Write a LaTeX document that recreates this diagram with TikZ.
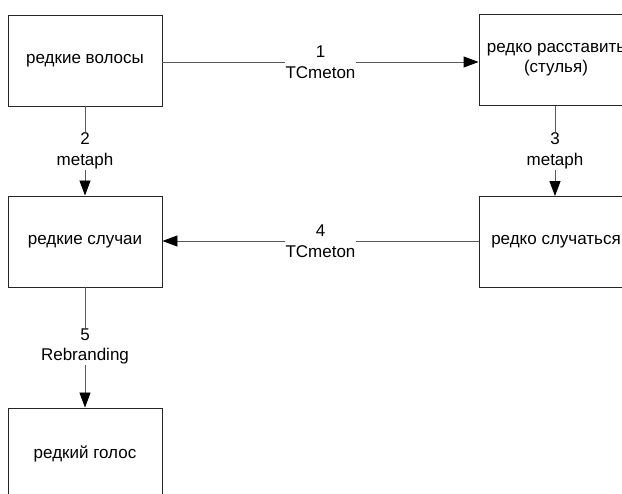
\documentclass[tikz,border=0pt]{standalone}
\usepackage{fontspec}
\setmainfont{Liberation Sans}
\usetikzlibrary{arrows.meta}
\begin{document}
\begin{tikzpicture}[x=1pt,y=-1pt,
  box/.style={draw=black!85,line width=0.9pt,minimum width=154pt,minimum height=91pt,inner sep=0pt,align=center,font=\fontsize{17}{20}\selectfont},
  conn/.style={draw=black!65,line width=0.9pt,-{Triangle[length=15pt,width=11pt,color=black]}},
  lab/.style={fill=white,inner sep=1pt,align=center,font=\fontsize{17}{20.5}\selectfont}]
\clip (0,0) rectangle (622,494);
\fill[white] (0,0) rectangle (622,494);
\node[box] (A) at (85,60.5) {редкие волосы};
\node[box] (B) at (556,60) {редко расставить\\(стулья)};
\node[box] (C) at (85,241.5) {редкие случаи};
\node[box] (D) at (556,242) {редко случаться};
\node[box] (E) at (85,453.5) {редкий голос};
\draw[conn] (A.east |- 0,62) -- node[lab] {1\\TCmeton} (B.west |- 0,62);
\draw[conn] (A.south) -- node[lab] {2\\metaph} (C.north);
\draw[conn] (B.south -| 555,0) -- node[lab] {3\\metaph} (D.north -| 555,0);
\draw[conn] (D.west |- 0,241) -- node[lab] {4\\TCmeton} (C.east |- 0,241);
\draw[conn] (C.south) -- node[lab,yshift=1pt] {5\\Rebranding} (E.north);
\end{tikzpicture}
\end{document}
